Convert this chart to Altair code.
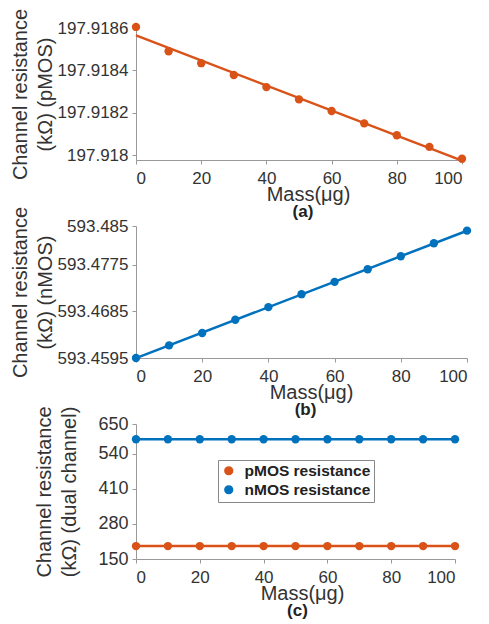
import altair as alt
import pandas as pd

mass = [0, 10, 20, 30, 40, 50, 60, 70, 80, 90, 100]
pmos = [197.918605, 197.91849, 197.918434, 197.918378, 197.918321, 197.918263,
        197.918208, 197.91815, 197.918094, 197.918039, 197.917983]
nmos = [593.4595, 593.46194, 593.46432, 593.46689, 593.46933, 593.47183,
        593.47421, 593.47665, 593.47915, 593.48166, 593.4841]
series_names = ["pMOS resistance", "nMOS resistance"]
x_ticks = [0, 20, 40, 60, 80, 100]
a_ticks = [197.918, 197.9182, 197.9184, 197.9186]
b_ticks = [593.4595, 593.4685, 593.4775, 593.485]
c_ticks = [150, 280, 410, 540, 650]

ORANGE = "#D95319"
BLUE = "#0072BD"
FONT = "Liberation Sans"

df = pd.DataFrame({"mass": mass, "pmos": pmos, "nmos": nmos})
long = pd.concat([
    pd.DataFrame({"mass": mass, "value": pmos, "series": series_names[0]}),
    pd.DataFrame({"mass": mass, "value": nmos, "series": series_names[1]}),
])


def xenc(title_x):
    return alt.X("mass:Q", scale=alt.Scale(domain=[0, 100], nice=False),
                 axis=alt.Axis(values=x_ticks, title="Mass(μg)", grid=False, titleX=title_x))


def letter_title(letter, dx):
    return alt.TitleParams(letter, orient="bottom", fontWeight="bold", fontSize=17,
                           font=FONT, color="#222", offset=0, dx=dx)


def panel(field, color, domain, ticks, ylab, letter, w, h, title_x):
    xe = xenc(title_x)
    yenc = alt.Y(f"{field}:Q",
                 scale=alt.Scale(domain=domain, nice=False, zero=False),
                 axis=alt.Axis(values=ticks, format=".7~r", title=ylab, grid=False))
    pts = alt.Chart(df).mark_circle(size=70, opacity=1, color=color).encode(x=xe, y=yenc)
    fit = (alt.Chart(df).transform_regression("mass", field)
           .mark_line(color=color, strokeWidth=2.5).encode(x=xe, y=yenc))
    return alt.layer(fit, pts).properties(width=w, height=h, title=letter_title(letter, 4))


pa = panel("pmos", ORANGE, [197.917977, 197.9186], a_ticks,
           ["Channel resistance", "(kΩ) (pMOS)"], "(a)", 326, 132, 172)
pb = panel("nmos", BLUE, [593.4595, 593.485], b_ticks,
           ["Channel resistance", "(kΩ) (nMOS)"], "(b)", 331, 132, 175)

cscale = alt.Scale(domain=series_names, range=[ORANGE, BLUE])
cx = xenc(166)
cy = alt.Y("value:Q", scale=alt.Scale(domain=[150, 650], nice=False, zero=False),
           axis=alt.Axis(values=c_ticks, title=["Channel resistance", "(kΩ) (dual channel)"],
                         grid=False, titlePadding=18, labelFontSize=18))
c_pts = alt.Chart(long).mark_circle(size=70, opacity=1).encode(
    x=cx, y=cy,
    color=alt.Color("series:N", scale=cscale, sort=series_names,
                    legend=alt.Legend(title=None, orient="none", legendX=82, legendY=36,
                                      symbolType="circle", symbolSize=60,
                                      labelFont=FONT, labelFontWeight="bold",
                                      labelFontSize=15.5, labelColor="#222",
                                      strokeColor="#888", fillColor="white",
                                      padding=3, rowPadding=2, labelOffset=8)))
c_line = alt.Chart(long).mark_line(strokeWidth=2.5).encode(
    x=cx, y=cy, color=alt.Color("series:N", scale=cscale, legend=None))
pc = alt.layer(c_pts, c_line).properties(width=319, height=135, title=letter_title("(c)", 2))

chart = (alt.vconcat(pa, pb, pc, spacing=66)
         .resolve_scale(color="independent")
         .resolve_legend(color="independent")
         .properties(bounds="flush", padding={"left": 10, "top": 8, "right": 5, "bottom": 5},
                     background="white")
         .configure_view(stroke=None)
         .configure_axis(labelFont=FONT, titleFont=FONT, labelFontSize=17, titleFontSize=20,
                         labelColor="#333", titleColor="#333", titleFontWeight="normal",
                         domainColor="#999", tickColor="#999", tickSize=4,
                         labelPadding=4, titleLineHeight=25)
         .configure_axisX(titlePadding=-2, labelPadding=6)
         .configure_axisY(titlePadding=2))

chart.save("out.html", embed_options={"renderer": "svg", "actions": False})
